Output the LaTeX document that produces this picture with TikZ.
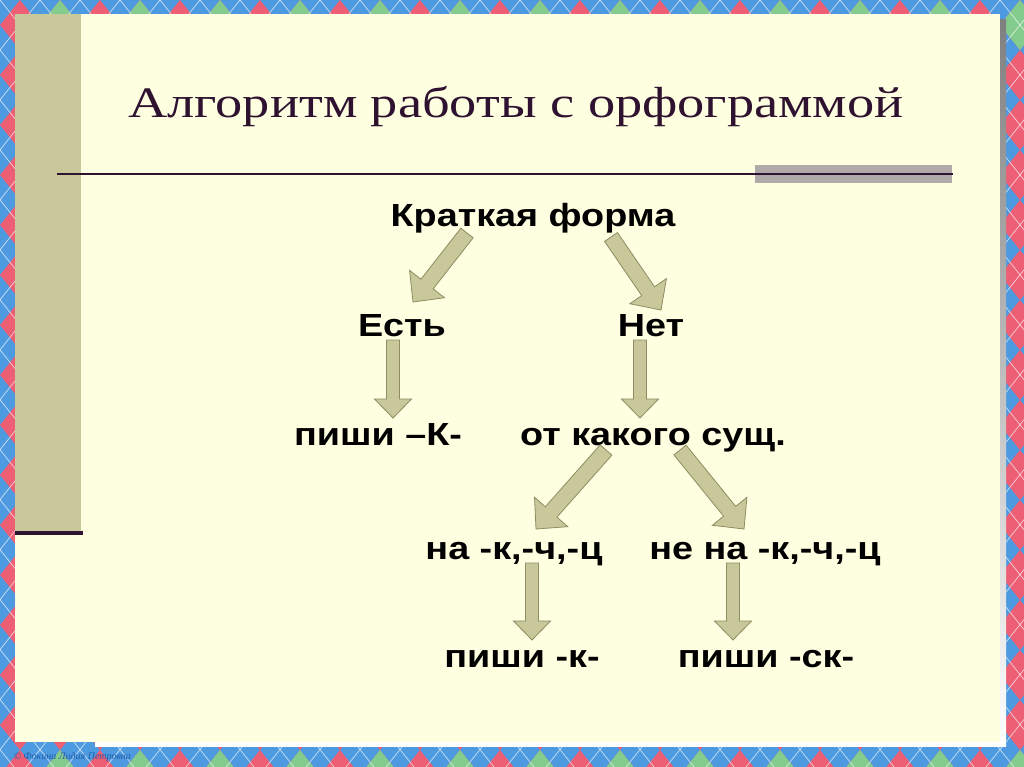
\documentclass[tikz,border=0pt]{standalone}
\usepackage{fontspec}
\setmainfont{Liberation Serif}
\newfontfamily\titlefont[FakeStretch=1.25]{Liberation Serif}
\newfontfamily\wordfont[FakeStretch=1.18]{Liberation Sans}
\usepackage{xcolor}
\definecolor{argblue}{HTML}{4E9AE0}
\definecolor{argpink}{HTML}{EC5F74}
\definecolor{arggreen}{HTML}{84CC8E}
\definecolor{shade}{HTML}{1D5DA8}
\definecolor{cream}{HTML}{FEFEE0}
\definecolor{olive}{HTML}{C9C89B}
\definecolor{oliveline}{HTML}{8E8C62}
\definecolor{plum}{HTML}{2E1230}
\definecolor{bargrey}{HTML}{B0A9AA}
\usetikzlibrary{calc,positioning}
\tikzset{
  every picture/.style={x=1pt, y=-1pt},
  headline/.style={font=\titlefont\fontsize{43.5}{47}\selectfont, text=plum, inner sep=0pt, anchor=base},
  word/.style={font=\wordfont\bfseries\fontsize{32}{36}\selectfont, text=black, inner sep=0pt, anchor=base},
  blockarrow/.style={draw=oliveline, fill=olive, line width=0.8pt, line join=miter},
  argline/.style={draw=white, line width=0.7pt, opacity=0.7},
}
\newcommand{\blockarrow}[3][1]{%
  \pgfmathsetmacro{\bw}{6.5*#1}%
  \pgfmathsetmacro{\bW}{18.5*#1}%
  \pgfmathsetmacro{\bl}{19*#1}%
  \coordinate (ba-b) at ($(#3)!\bl pt!(#2)$);
  \draw[blockarrow] ($(#2)!\bw pt!90:(#3)$) -- ($(ba-b)!\bw pt!90:(#3)$) -- ($(ba-b)!\bW pt!90:(#3)$) -- (#3)
    -- ($(ba-b)!\bW pt!-90:(#3)$) -- ($(ba-b)!\bw pt!-90:(#3)$) -- ($(#2)!\bw pt!-90:(#3)$) -- cycle;}

\begin{document}
\begin{tikzpicture}
  \useasboundingbox (0,0) rectangle (1024,767);
  \begin{scope}
    \clip (0,0) rectangle (1024,767);
    \fill[argblue] (0,0) rectangle (1024,767);
    \foreach \i in {0,...,25} {
      \foreach \j in {0,...,15} {
        \fill[argpink] (20+40*\i,25+50*\j) +(-20,0) -- +(0,-25) -- +(20,0) -- +(0,25) -- cycle;
      }
    }
    \foreach \i in {1,3,...,25} {
      \foreach \j in {0,15} {
        \fill[arggreen] (20+40*\i,25+50*\j) +(-20,0) -- +(0,-25) -- +(20,0) -- +(0,25) -- cycle;
      }
    }
    \foreach \k in {-20,...,45} {
      \draw[argline] (40*\k,0) -- ++(614,767);
      \draw[argline] (40*\k,0) -- ++(-614,767);
    }
  \end{scope}
  \fill[shade] (95,20) rectangle (1006,746);
  \fill[cream] (15,14) rectangle (1000,742);
  \fill[olive] (15,14) rectangle (81,531);
  \fill[plum] (15,531) rectangle (83,535);
  \fill[bargrey] (755,165) rectangle (952,183);
  \draw[plum, line width=2pt] (57,174) -- (953,174);
  \node[font=\itshape\fontsize{10}{12}\selectfont, text=shade, anchor=base west] (sign) at (10,759) {© Фокина Лидия Петровна};

  \node[headline] (title) at (516,118) {Алгоритм работы с орфограммой};

  \node[word] (krat) at (533,226) {Краткая форма};
  \node[word] (est) at (402,336) {Есть};
  \node[word] (net) at (651,336) {Нет};
  \node[word] (pishiK) at (378,445) {пиши –К-};
  \node[word] (otkakogo) at (653,445) {от какого сущ.};
  \node[word] (nakch) at (514,559) {на -к,-ч,-ц};
  \node[word] (nenakch) at (765,559) {не на -к,-ч,-ц};
  \node[word] (pishik) at (522,667) {пиши -к-};
  \node[word] (pishisk) at (766,667) {пиши -ск-};

  \coordinate (krat-l) at (467,233);
  \coordinate (est-in) at (413,302);
  \coordinate (krat-r) at (611,237);
  \coordinate (net-in) at (661,310);
  \coordinate (est-out) at (393,340);
  \coordinate (pishiK-in) at (393,418);
  \coordinate (net-out) at (640,340);
  \coordinate (otkakogo-in) at (640,418);
  \coordinate (otkakogo-l) at (606,450);
  \coordinate (nakch-in) at (536,529);
  \coordinate (otkakogo-r) at (680,450);
  \coordinate (nenakch-in) at (744,529);
  \coordinate (nakch-out) at (532,563);
  \coordinate (pishik-in) at (532,640);
  \coordinate (nenakch-out) at (733,563);
  \coordinate (pishisk-in) at (733,640);

  \blockarrow[1.2]{krat-l}{est-in}
  \blockarrow[1.2]{krat-r}{net-in}
  \blockarrow{est-out}{pishiK-in}
  \blockarrow{net-out}{otkakogo-in}
  \blockarrow[1.2]{otkakogo-l}{nakch-in}
  \blockarrow[1.2]{otkakogo-r}{nenakch-in}
  \blockarrow{nakch-out}{pishik-in}
  \blockarrow{nenakch-out}{pishisk-in}
\end{tikzpicture}
\end{document}
